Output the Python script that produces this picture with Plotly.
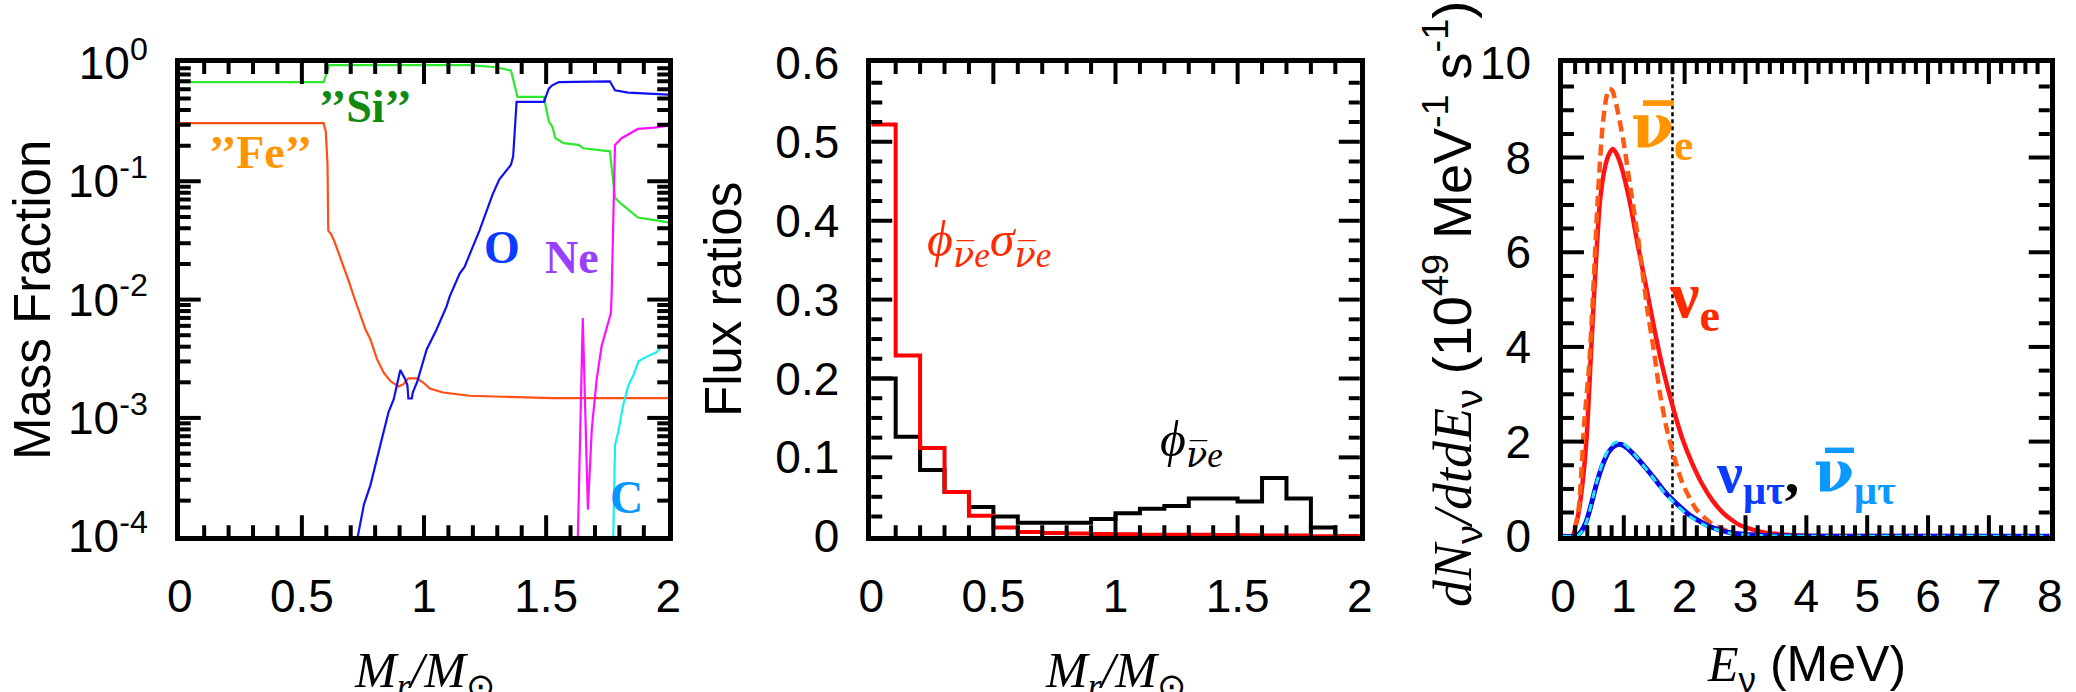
import plotly.graph_objects as go

# ---------------- data ----------------
# Left panel: mass fractions vs M_r/M_sun
fe_m = [0, 0.589, 0.598, 0.605, 0.608, 0.619, 0.632, 0.652, 0.673, 0.693, 0.713, 0.733, 0.761, 0.781,
        0.808, 0.835, 0.862, 0.896, 0.916, 0.936, 0.970, 0.997, 1.024, 1.078, 1.187, 1.322, 1.525, 2.0]
fe_x = [0.31, 0.31, 0.263, 0.138, 0.0383, 0.0359, 0.0315, 0.0244, 0.0189, 0.0141, 0.01057, 0.00818,
        0.00556, 0.00459, 0.00312, 0.00241, 0.00205, 0.00184, 0.00193, 0.00216, 0.00216, 0.00199,
        0.00177, 0.00164, 0.00154, 0.00151, 0.00147, 0.00147]

si_m = [0, 0.589, 0.612, 1.187, 1.295, 1.356, 1.383, 1.491, 1.511, 1.525, 1.538, 1.572, 1.633, 1.653,
        1.761, 1.782, 1.809, 1.843, 1.876, 1.944, 2.0]
si_x = [0.689, 0.689, 0.96, 0.96, 0.92, 0.863, 0.516, 0.516, 0.319, 0.29, 0.231, 0.21, 0.203, 0.19,
        0.179, 0.0727, 0.064, 0.0562, 0.0494, 0.047, 0.0449]

o_m = [0.72, 0.729, 0.754, 0.781, 0.821, 0.855, 0.876, 0.903, 0.923, 0.932, 0.936, 0.950, 0.954, 0.973,
       1.011, 1.051, 1.092, 1.105, 1.146, 1.166, 1.227, 1.281, 1.308, 1.356, 1.365, 1.379, 1.491, 1.511,
       1.525, 1.552, 1.761, 1.782, 1.836, 2.0]
o_x = [7e-5, 1e-4, 1.85e-4, 2.72e-4, 5.87e-4, 1.12e-3, 1.44e-3, 2.54e-3, 2.12e-3, 1.89e-3, 1.46e-3,
       1.46e-3, 1.64e-3, 2.05e-3, 3.79e-3, 5.56e-3, 8.73e-3, 0.0106, 0.0166, 0.0189, 0.0383, 0.0776,
       0.1036, 0.138, 0.1625, 0.469, 0.469, 0.606, 0.647, 0.689, 0.70, 0.587, 0.561, 0.54]

ne_m = [1.628, 1.630, 1.650, 1.671, 1.687, 1.707, 1.727, 1.765, 1.768, 1.782, 1.809, 1.843, 1.876,
        1.944, 2.0]
ne_x = [5e-5, 1e-4, 6.97e-3, 1.68e-4, 8.1e-4, 2.12e-3, 4.03e-3, 7.67e-3, 0.0106, 0.203, 0.231, 0.255,
        0.277, 0.284, 0.295]

c_m = [1.774, 1.775, 1.782, 1.795, 1.815, 1.836, 1.856, 1.879, 1.917, 1.951, 1.971, 2.0]
c_x = [5e-5, 1e-4, 5.87e-4, 7.6e-4, 1.27e-3, 1.87e-3, 2.26e-3, 3.02e-3, 3.33e-3, 3.59e-3, 3.95e-3, 4.0e-3]

# Middle panel: flux ratios per 0.1 M_sun shell (bin edges)
mass_edges = [0.0, 0.1, 0.2, 0.3, 0.4, 0.5, 0.6, 0.7, 0.8, 0.9, 1.0,
              1.1, 1.2, 1.3, 1.4, 1.5, 1.6, 1.7, 1.8, 1.9, 2.0]
phi_nuebar = [0.200, 0.126, 0.084, 0.056, 0.037, 0.025, 0.017, 0.017, 0.017, 0.022,
              0.029, 0.035, 0.0385, 0.048, 0.048, 0.044, 0.074, 0.048, 0.011, 0.0]
phisig_nuebar = [0.522, 0.229, 0.112, 0.056, 0.026, 0.011, 0.0055, 0.004, 0.0035, 0.003,
                 0.0025, 0.002, 0.002, 0.0018, 0.0015, 0.0012, 0.001, 0.0008, 0.0, 0.0]

# Right panel: neutrino spectra dN/dtdE (1e49 MeV^-1 s^-1)
e_nue = [0, 0.15, 0.25, 0.32, 0.39, 0.46, 0.54, 0.61, 0.70, 0.76, 0.82, 0.88, 0.95, 1.09, 1.23, 1.37,
         1.51, 1.65, 1.80, 1.96, 2.12, 2.28, 2.45, 2.65, 2.90, 3.30, 3.80, 4.50, 8.0]
n_nue = [0, 0, 0.45, 1.1, 2.1, 3.85, 5.75, 7.1, 7.85, 8.08, 8.18, 8.08, 7.85, 7.12, 6.15, 5.25,
         4.33, 3.5, 2.76, 2.07, 1.55, 1.12, 0.77, 0.47, 0.24, 0.08, 0.022, 0.004, 0]

e_anue = [0, 0.14, 0.25, 0.35, 0.43, 0.49, 0.57, 0.65, 0.71, 0.76, 0.81, 0.88, 1.0, 1.11, 1.24, 1.38,
          1.49, 1.59, 1.70, 1.84, 1.97, 2.19, 2.46, 2.75, 3.05, 3.6, 8.0]
n_anue = [0, 0, 0.5, 2.4, 3.6, 5.0, 7.1, 8.65, 9.25, 9.45, 9.42, 9.1, 8.3, 7.35, 6.25, 4.85,
          3.95, 3.05, 2.3, 1.62, 1.1, 0.57, 0.25, 0.09, 0.025, 0.003, 0]

e_numu = [0, 0.22, 0.30, 0.38, 0.45, 0.55, 0.65, 0.75, 0.85, 0.95, 1.05, 1.2, 1.35, 1.52, 1.66,
          1.81, 2.08, 2.40, 2.75, 3.25, 4.0, 8.0]
n_numu = [0, 0, 0.1, 0.3, 0.6, 1.1, 1.5, 1.78, 1.91, 1.94, 1.87, 1.68, 1.46, 1.19, 0.96,
          0.76, 0.45, 0.21, 0.075, 0.02, 0.002, 0]
n_anumu = [0, 0, 0.08, 0.28, 0.6, 1.12, 1.55, 1.84, 1.98, 1.99, 1.9, 1.69, 1.45, 1.17, 0.93,
           0.73, 0.42, 0.19, 0.065, 0.015, 0.001, 0]

threshold_e = [1.8, 1.8]
threshold_n = [0, 10]

# ---------------- figure ----------------
W, H = 2076, 692
SANS = "Liberation Sans"
SERIF = "Liberation Serif"
DJ = "DejaVu Serif"
LW = 4.5

fig = go.Figure()

def add_line(x, y, color, width, xa, ya, dash=None, shape="linear"):
    line = dict(color=color, width=width, shape=shape)
    if dash:
        line["dash"] = dash
    if shape == "spline":
        line["smoothing"] = 0.6
    fig.add_trace(go.Scatter(x=x, y=y, mode="lines", line=line, xaxis=xa, yaxis=ya))

# left panel
add_line(fe_m, fe_x, "#ff4f12", 2.2, "x", "y")
add_line(si_m, si_x, "#2ee82e", 2.2, "x", "y")
add_line(o_m, o_x, "#1010f0", 2.2, "x", "y")
add_line(ne_m, ne_x, "#ff10ff", 2.2, "x", "y")
add_line(c_m, c_x, "#18f0f0", 2.2, "x", "y")

# middle panel (step histograms)
add_line(mass_edges, phi_nuebar + phi_nuebar[-1:], "#000000", 4, "x2", "y2", shape="hv")
add_line(mass_edges, phisig_nuebar + phisig_nuebar[-1:], "#ff0000", 4, "x2", "y2", shape="hv")

# right panel
add_line(threshold_e, threshold_n, "#000000", 2.5, "x3", "y3", dash="4px,3px")
add_line(e_nue, n_nue, "#ff1414", 4.5, "x3", "y3", shape="spline")
add_line(e_anue, n_anue, "#ff5a14", 4.5, "x3", "y3", dash="11px,6px", shape="spline")
add_line(e_numu, n_numu, "#0a0ae6", 5, "x3", "y3", shape="spline")
add_line(e_numu, n_anumu, "#22e4ff", 3, "x3", "y3", dash="8px,6px", shape="spline")


def px_dom_x(a, b):
    return [(a + LW / 2) / W, (b - LW / 2) / W]


ydom = [1 - (538.5 - LW / 2) / H, 1 - (60.7 + LW / 2) / H]
dom1 = px_dom_x(177.5, 670.5)
dom2 = px_dom_x(869, 1362)
dom3 = px_dom_x(1560.7, 2052)
TF = dict(family=SANS, size=46, color="black")

lab = dict(showline=True, linewidth=LW, linecolor="black", mirror=True, ticks="",
           showgrid=False, zeroline=False, tickfont=TF)

fig.update_layout(
    template="none",
    width=W, height=H, margin=dict(l=0, r=0, t=0, b=0), showlegend=False,
    font=dict(family=SANS),
    xaxis=dict(lab, ticklabelstandoff=16, domain=dom1, anchor="y", range=[0, 2], dtick=0.5),
    yaxis=dict(lab, ticklabelstandoff=18, domain=ydom, anchor="x", type="log",
               range=[-4, 0], tickmode="array", tickvals=[1e-4, 1e-3, 1e-2, 1e-1, 1],
               ticktext=["10<sup>-4</sup>", "10<sup>-3</sup>", "10<sup>-2</sup>",
                         "10<sup>-1</sup>", "10<sup>0</sup>"]),
    xaxis2=dict(lab, ticklabelstandoff=16, domain=dom2, anchor="y2", range=[0, 2], dtick=0.5),
    yaxis2=dict(lab, ticklabelstandoff=18, domain=ydom, anchor="x2", range=[0, 0.6], dtick=0.1),
    xaxis3=dict(lab, ticklabelstandoff=16, domain=dom3, anchor="y3", range=[0, 8], dtick=1),
    yaxis3=dict(lab, ticklabelstandoff=18, domain=ydom, anchor="x3", range=[0, 10], dtick=2),
)

# ---- inward tick marks on all four sides (major 21 px, minor 11 px) ----
MAJ, MIN = 21, 11
ph = (ydom[1] - ydom[0]) * H


def steps(lo, hi, step, skip_every=None):
    n = int(round((hi - lo) / step))
    out = []
    for i in range(1, n):
        if skip_every and i % skip_every == 0:
            continue
        out.append(round(lo + i * step, 6))
    return out


shapes = []


def panel_ticks(xa, ya, dom, xmaj, xmin, ymaj, ymin):
    pw = (dom[1] - dom[0]) * W
    for vals, L in ((xmaj, MAJ), (xmin, MIN)):
        f = L / ph
        for v in vals:
            for a, b in ((0, f), (1 - f, 1)):
                shapes.append(dict(type="line", xref=xa, yref=ya + " domain", x0=v, x1=v,
                                   y0=a, y1=b, line=dict(color="black", width=4)))
    for vals, L in ((ymaj, MAJ), (ymin, MIN)):
        f = L / pw
        for v in vals:
            for a, b in ((0, f), (1 - f, 1)):
                shapes.append(dict(type="line", xref=xa + " domain", yref=ya, x0=a, x1=b,
                                   y0=v, y1=v, line=dict(color="black", width=4)))


mass_major = steps(0, 2, 0.5)
mass_minor = steps(0, 2, 0.1, skip_every=5)
log_major = [1e-3, 1e-2, 1e-1]
log_minor = [k * 10.0 ** d for d in range(-4, 0) for k in range(2, 10)]

panel_ticks("x", "y", dom1, mass_major, mass_minor, log_major, log_minor)
panel_ticks("x2", "y2", dom2, mass_major, mass_minor, steps(0, 0.6, 0.1), steps(0, 0.6, 0.025, skip_every=4))
panel_ticks("x3", "y3", dom3, steps(0, 8, 1), steps(0, 8, 0.2, skip_every=5),
            steps(0, 10, 2), steps(0, 10, 0.5, skip_every=4))

fig.update_layout(shapes=shapes)

ann = []
# axis titles (paper coordinates)
def title(text, xpx, ypx, size, family, angle=0):
    ann.append(dict(text=text, x=xpx / W, y=1 - ypx / H, xref="paper", yref="paper",
                    xanchor="center", yanchor="middle", showarrow=False, textangle=angle,
                    font=dict(family=family, size=size, color="black")))

mr_title = "<i>M<sub>r</sub>/M</i><sub>⊙</sub>"
title(mr_title, 424, 674, 50, SERIF)
title(mr_title, 1115.5, 674, 50, SERIF)
title(f'<span style="font-family:{SERIF}"><i>E</i></span><sub>ν</sub> (MeV)', 1806, 667, 50, SANS)
title("Mass Fraction", 33, 300, 51, SANS, -90)
title("Flux ratios", 724, 300, 51, SANS, -90)
title(f'<span style="font-family:{SERIF}"><i>dN</i></span><sub>ν</sub>'
      f'<span style="font-family:{SERIF}"><i>/dtdE</i></span><sub>ν</sub>'
      ' (10<sup>49</sup> MeV<sup>-1</sup> s<sup>-1</sup>)', 1452, 304, 54, SANS, -90)

# in-plot labels (data coordinates)
def label(text, x, y, xa, ya, color, size, family=SERIF):
    ann.append(dict(text=text, x=x, y=y, xref=xa, yref=ya, showarrow=False,
                    xanchor="center", yanchor="middle",
                    font=dict(family=family, size=size, color=color)))

NUBAR = f'<span style="font-family:{DJ}">ν̅</span>'

label("<b>’’Fe’’</b>", 0.33, -0.76, "x", "y", "#ff9500", 46)
label("<b>’’Si’’</b>", 0.76, -0.37, "x", "y", "#118a11", 46)
label("<b>O</b>", 1.32, -1.56, "x", "y", "#0a3cff", 46)
label("<b>Ne</b>", 1.605, -1.64, "x", "y", "#9940ff", 46)
label("<b>C</b>", 1.83, -3.67, "x", "y", "#0a96ff", 46)

label(f"<i>ϕ<sub>{NUBAR}e</sub>σ<sub>{NUBAR}e</sub></i>", 0.483, 0.372, "x2", "y2", "#ff2a00", 50)
label(f"<i>ϕ<sub>{NUBAR}e</sub></i>", 1.31, 0.118, "x2", "y2", "#000000", 50)

label(f"<b>{NUBAR}<sub>e</sub></b>", 1.63, 8.6, "x3", "y3", "#ff9500", 62)
label("<b>ν<sub>e</sub></b>", 2.17, 5.0, "x3", "y3", "#ff2a00", 66)
label('<b><span style="color:#0a3cff">ν<sub>μτ</sub></span>, '
      f'<span style="color:#0a9aff">{NUBAR}<sub>μτ</sub></span></b>', 3.99, 1.28, "x3", "y3",
      "#000000", 58)

fig.update_layout(annotations=ann)
fig.write_html("out.html")
